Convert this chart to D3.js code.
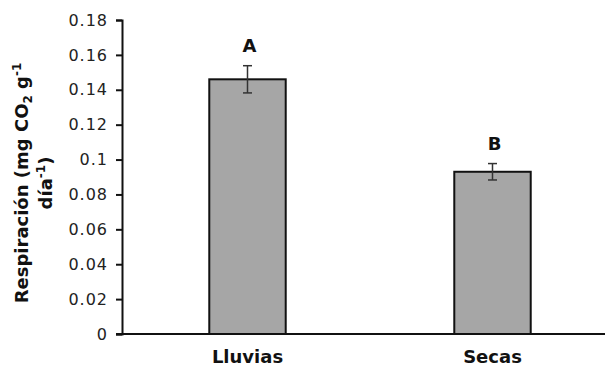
<!DOCTYPE html>
<html>
<head>
<meta charset="utf-8">
<script src="https://cdn.jsdelivr.net/npm/d3@7"></script>
<style>
  body { margin: 0; background: #fff; }
  text { font-family: "DejaVu Sans", Verdana, sans-serif; }
</style>
</head>
<body>
<script>
(function() {

  // chart values
  let categories = ["Lluvias", "Secas"];
  let means = [0.146, 0.093];
  let errors = [0.0078, 0.0047];
  let letters = ["A", "B"];
  let yTicks = [0, 0.02, 0.04, 0.06, 0.08, 0.1, 0.12, 0.14, 0.16, 0.18];

  let svg = d3.select('body')
    .append('svg')
    .attr('width', 605)
    .attr('height', 366);

  // scales
  let yScale = d3.scaleLinear()
    .domain([0, 0.18])
    .range([334, 20]);

  let xScale = d3.scaleBand()
    .domain(categories)
    .range([125, 615])
    .paddingInner(0.688)
    .paddingOuter(0.344);

  // y axis
  let yAxis = d3.axisLeft(yScale)
    .tickValues(yTicks)
    .tickSize(6)
    .tickPadding(8)
    .tickFormat((d) => d3.format('')(+d.toFixed(2)));

  let gy = svg.append('g')
    .attr('transform', 'translate(122, 0)')
    .call(yAxis);
  gy.select('.domain').attr('stroke', '#111').attr('stroke-width', 2);
  gy.selectAll('.tick line').attr('stroke', '#111').attr('stroke-width', 2);
  gy.selectAll('.tick text')
    .style('font-size', '16px')
    .style('letter-spacing', '1px')
    .attr('fill', '#222');

  // bars
  svg.selectAll('.bar')
    .data(categories)
    .enter()
    .append('rect')
      .attr('class', 'bar')
      .attr('x', (d) => xScale(d))
      .attr('y', (d, i) => yScale(means[i]))
      .attr('width', xScale.bandwidth())
      .attr('height', (d, i) => yScale(0) - yScale(means[i]))
      .attr('fill', '#a6a6a6')
      .attr('stroke', '#111')
      .attr('stroke-width', 2);

  // error bars
  let cx = (d) => xScale(d) + xScale.bandwidth() / 2;
  let eb = svg.selectAll('.err')
    .data(categories)
    .enter()
    .append('g')
      .attr('class', 'err')
      .attr('stroke', '#333')
      .attr('stroke-width', 1.5);
  eb.append('line')
    .attr('x1', cx).attr('x2', cx)
    .attr('y1', (d, i) => yScale(means[i] + errors[i]))
    .attr('y2', (d, i) => yScale(means[i] - errors[i]));
  eb.append('line')
    .attr('x1', (d) => cx(d) - 4.5).attr('x2', (d) => cx(d) + 4.5)
    .attr('y1', (d, i) => yScale(means[i] + errors[i]))
    .attr('y2', (d, i) => yScale(means[i] + errors[i]));
  eb.append('line')
    .attr('x1', (d) => cx(d) - 4.5).attr('x2', (d) => cx(d) + 4.5)
    .attr('y1', (d, i) => yScale(means[i] - errors[i]))
    .attr('y2', (d, i) => yScale(means[i] - errors[i]));

  // significance letters
  svg.selectAll('.letter')
    .data(categories)
    .enter()
    .append('text')
      .attr('class', 'letter')
      .attr('x', (d) => cx(d) + 2)
      .attr('y', (d, i) => yScale(means[i] + errors[i]) - 14)
      .attr('text-anchor', 'middle')
      .style('font-size', '18px')
      .style('font-weight', 'bold')
      .attr('fill', '#111')
      .text((d, i) => letters[i]);

  // x axis
  svg.append('line')
    .attr('x1', 116).attr('x2', 605)
    .attr('y1', yScale(0)).attr('y2', yScale(0))
    .attr('stroke', '#111')
    .attr('stroke-width', 2);

  svg.selectAll('.cat')
    .data(categories)
    .enter()
    .append('text')
      .attr('class', 'cat')
      .attr('x', cx)
      .attr('y', 363)
      .attr('text-anchor', 'middle')
      .style('font-size', '18px')
      .style('font-weight', 'bold')
      .attr('fill', '#111')
      .text((d) => d);

  // y axis title, two lines
  let title = svg.append('text')
    .attr('transform', 'translate(28, 183)rotate(-90)')
    .attr('text-anchor', 'middle')
    .style('font-size', '18px')
    .style('font-weight', 'bold')
    .attr('fill', '#111');
  let l1 = title.append('tspan').attr('x', 0).attr('y', 0);
  l1.append('tspan').text('Respiración (mg CO');
  l1.append('tspan').attr('dy', 4).style('font-size', '12px').text('2');
  l1.append('tspan').attr('dy', -4).text(' g');
  l1.append('tspan').attr('dy', -7).style('font-size', '12px').text('-1');
  let l2 = title.append('tspan').attr('x', 0).attr('y', 24);
  l2.append('tspan').text('día');
  l2.append('tspan').attr('dy', -7).style('font-size', '12px').text('-1');
  l2.append('tspan').attr('dy', 7).text(')');

})();
</script>
</body>
</html>
